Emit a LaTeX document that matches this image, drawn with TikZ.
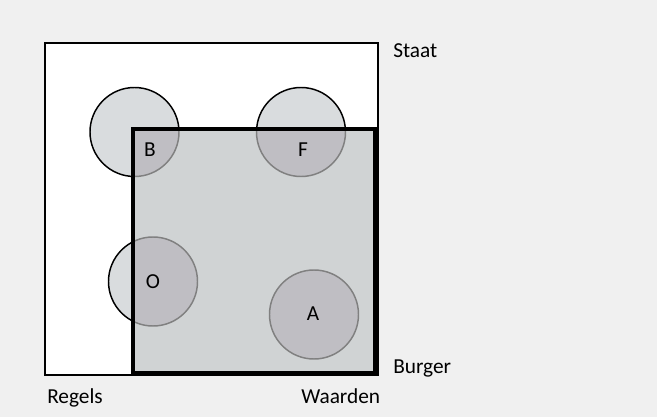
\documentclass[tikz,border=0pt]{standalone}
\usepackage{fontspec}
\setmainfont{Carlito}
\definecolor{bgcol}{HTML}{F0F0F0}
\definecolor{burgercol}{HTML}{D0D3D4}
\definecolor{circcol}{HTML}{D9DCDE}
\definecolor{overlapcol}{HTML}{BFBEC3}
\definecolor{edgecol}{HTML}{808080}
\tikzset{
  lbl/.style={font=\fontsize{16}{19}\selectfont, inner sep=0pt},
  circ/.style={fill=circcol, draw=black, line width=1.1pt},
  circin/.style={fill=overlapcol, draw=edgecol, line width=1.1pt}
}
\begin{document}
\begin{tikzpicture}[x=0.75pt, y=-0.75pt]
    % Background
    \fill[bgcol] (0,0) rectangle (657,417);
    \useasboundingbox (0,0) rectangle (657,417);
    
    % Staat
    \draw[fill=white, line width=1.5pt] (45,43) rectangle (378,375);
    
    % Centres of the circles
    \coordinate (cB) at (134.5,132);
    \coordinate (cF) at (301,132);
    \coordinate (cO) at (153,281.5);
    \coordinate (cA) at (314,314.5);
    
    % Circles outside the Burger square
    \foreach \c in {cB,cF,cO}
        \draw[circ] (\c) circle[radius=44.5];
    
    % Burger
    \fill[burgercol] (133,129) rectangle (375,373);
    
    % Parts of the circles inside the Burger square
    \begin{scope}
        \clip (133,129) rectangle (375,373);
        \foreach \c in {cB,cF,cO,cA}
            \draw[circin] (\c) circle[radius=44.5];
    \end{scope}
    \draw[line width=3pt] (133,129) rectangle (375,373);
    
    % Letters in the circles
    \node[lbl] (B) at (150,150) {B};
    \node[lbl] (F) at (303,150) {F};
    \node[lbl] (O) at (153,282) {O};
    \node[lbl] (A) at (313,314) {A};
    
    % Labels
    \node[lbl, anchor=base west] (staat) at (393,58) {Staat};
    \node[lbl, anchor=base west] (burger) at (393,373) {Burger};
    \node[lbl, anchor=base west] (regels) at (47,403) {Regels};
    \node[lbl, anchor=base west] (waarden) at (301,403) {Waarden};
\end{tikzpicture}
\end{document}
